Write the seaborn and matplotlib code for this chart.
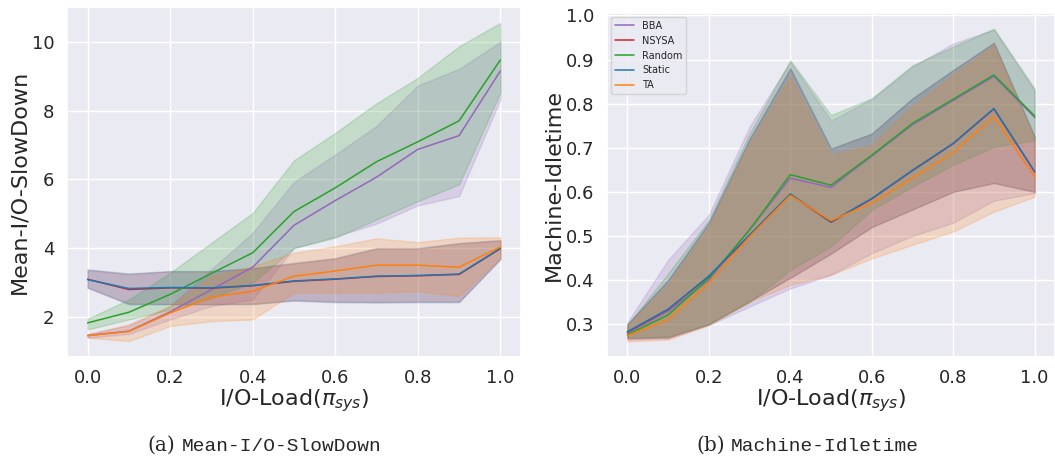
import numpy as np
import pandas as pd
import matplotlib
matplotlib.use("Agg")
import matplotlib.pyplot as plt
import seaborn as sns

# I/O load levels
loads = [0.0, 0.1, 0.2, 0.3, 0.4, 0.5, 0.6, 0.7, 0.8, 0.9, 1.0]
policies = ["BBA", "NSYSA", "Random", "Static", "TA"]
colors = ["#9467bd", "#d62728", "#2ca02c", "#1f77b4", "#ff7f0e"]

# Mean I/O slowdown: mean, lower and upper bound per policy
slow_mean = {
    "BBA":    [1.45, 1.58, 2.14, 2.79, 3.44, 4.66, 5.38, 6.06, 6.87, 7.27, 9.15],
    "NSYSA":  [3.09, 2.79, 2.84, 2.83, 2.90, 3.03, 3.09, 3.17, 3.19, 3.23, 3.98],
    "Random": [1.82, 2.13, 2.65, 3.26, 3.86, 5.06, 5.75, 6.51, 7.09, 7.70, 9.47],
    "Static": [3.08, 2.82, 2.85, 2.84, 2.91, 3.04, 3.10, 3.18, 3.20, 3.24, 3.99],
    "TA":     [1.45, 1.57, 2.11, 2.57, 2.74, 3.18, 3.33, 3.50, 3.50, 3.44, 4.03],
}
slow_low = {
    "BBA":    [1.39, 1.50, 1.92, 2.31, 2.50, 4.00, 4.33, 4.71, 5.24, 5.51, 8.32],
    "NSYSA":  [2.85, 2.38, 2.37, 2.37, 2.38, 2.48, 2.44, 2.43, 2.44, 2.44, 3.68],
    "Random": [1.63, 1.92, 2.21, 2.55, 2.99, 4.00, 4.30, 4.83, 5.36, 5.85, 8.52],
    "Static": [2.84, 2.36, 2.36, 2.36, 2.36, 2.47, 2.42, 2.41, 2.42, 2.42, 3.67],
    "TA":     [1.39, 1.29, 1.73, 1.87, 1.92, 2.70, 2.70, 2.70, 2.74, 2.60, 3.71],
}
slow_high = {
    "BBA":    [1.50, 1.75, 2.31, 3.38, 4.44, 5.92, 6.72, 7.55, 8.73, 9.21, 10.00],
    "NSYSA":  [3.36, 3.24, 3.32, 3.32, 3.40, 3.55, 3.69, 3.98, 3.98, 4.13, 4.22],
    "Random": [1.94, 2.50, 3.28, 4.15, 5.02, 6.55, 7.35, 8.21, 8.95, 9.87, 10.55],
    "Static": [3.38, 3.26, 3.33, 3.33, 3.42, 3.57, 3.71, 4.00, 4.00, 4.15, 4.23],
    "TA":     [1.48, 1.78, 2.31, 3.18, 3.47, 3.86, 4.05, 4.28, 4.17, 4.30, 4.31],
}

# Machine idle time: mean, lower and upper bound per policy
idle_mean = {
    "BBA":    [0.280, 0.329, 0.400, 0.514, 0.631, 0.610, 0.681, 0.752, 0.807, 0.862, 0.769],
    "NSYSA":  [0.282, 0.333, 0.408, 0.501, 0.594, 0.531, 0.584, 0.648, 0.709, 0.788, 0.645],
    "Random": [0.276, 0.321, 0.404, 0.514, 0.639, 0.615, 0.683, 0.755, 0.810, 0.865, 0.772],
    "Static": [0.283, 0.334, 0.409, 0.502, 0.595, 0.532, 0.585, 0.649, 0.710, 0.789, 0.646],
    "TA":     [0.274, 0.310, 0.393, 0.498, 0.592, 0.535, 0.574, 0.631, 0.689, 0.770, 0.634],
}
idle_low = {
    "BBA":    [0.265, 0.268, 0.298, 0.340, 0.381, 0.412, 0.461, 0.500, 0.530, 0.580, 0.597],
    "NSYSA":  [0.268, 0.270, 0.300, 0.352, 0.405, 0.460, 0.520, 0.560, 0.600, 0.620, 0.600],
    "Random": [0.270, 0.272, 0.300, 0.350, 0.423, 0.476, 0.559, 0.612, 0.661, 0.702, 0.717],
    "Static": [0.268, 0.270, 0.300, 0.352, 0.405, 0.460, 0.520, 0.560, 0.600, 0.620, 0.600],
    "TA":     [0.261, 0.265, 0.298, 0.351, 0.389, 0.412, 0.449, 0.480, 0.510, 0.555, 0.589],
}
idle_high = {
    "BBA":    [0.304, 0.446, 0.548, 0.748, 0.895, 0.762, 0.810, 0.884, 0.936, 0.968, 0.830],
    "NSYSA":  [0.300, 0.400, 0.530, 0.720, 0.880, 0.698, 0.732, 0.812, 0.876, 0.938, 0.725],
    "Random": [0.298, 0.415, 0.536, 0.732, 0.898, 0.774, 0.812, 0.887, 0.929, 0.970, 0.834],
    "Static": [0.300, 0.400, 0.530, 0.720, 0.880, 0.698, 0.732, 0.812, 0.876, 0.938, 0.725],
    "TA":     [0.295, 0.390, 0.520, 0.710, 0.861, 0.683, 0.706, 0.793, 0.865, 0.932, 0.718],
}


def long_form(mean, low, high):
    """Three observations per (policy, load): low, mean, high.
    The median gives the line and the full percentile range gives the band."""
    rows = []
    for p in policies:
        for i, x in enumerate(loads):
            for v in (low[p][i], mean[p][i], high[p][i]):
                rows.append({"policy": p, "load": x, "value": v})
    return pd.DataFrame(rows)


sns.set_theme(style="darkgrid")
plt.rcParams["font.family"] = ["DejaVu Sans"]

fig = plt.figure(figsize=(10.55, 4.61), dpi=100)
ax1 = fig.add_axes([0.0635, 0.2256, 0.4303, 0.7592])
ax2 = fig.add_axes([0.5754, 0.2256, 0.4246, 0.7462])

palette = dict(zip(policies, colors))

for ax, (mean, low, high), ylabel, show_legend in [
    (ax1, (slow_mean, slow_low, slow_high), "Mean-I/O-SlowDown", False),
    (ax2, (idle_mean, idle_low, idle_high), "Machine-Idletime", True),
]:
    df = long_form(mean, low, high)
    sns.lineplot(data=df, x="load", y="value", hue="policy",
                 hue_order=policies, palette=palette,
                 estimator="median", errorbar=("pi", 100),
                 linewidth=1.1, legend=show_legend, ax=ax)
    ax.set_xlabel(r"I/O-Load($\pi_{sys}$)", fontsize=16, labelpad=0)
    ax.set_ylabel(ylabel, fontsize=16, labelpad=1.5)
    ax.tick_params(axis="both", labelsize=13, pad=3)

sns.move_legend(ax2, "upper left", title=None, fontsize=7,
                borderaxespad=0.4)

# Subfigure captions
cap_y = 10 / 461
fig.text(175 / 1055, cap_y, "(a)", ha="right", va="baseline",
         family="DejaVu Serif", fontsize=14.5)
fig.text(182 / 1055, cap_y, "Mean-I/O-SlowDown", ha="left", va="baseline",
         family="Liberation Mono", fontsize=14)
fig.text(725 / 1055, cap_y, "(b)", ha="right", va="baseline",
         family="DejaVu Serif", fontsize=14.5)
fig.text(731 / 1055, cap_y, "Machine-Idletime", ha="left", va="baseline",
         family="Liberation Mono", fontsize=14)

fig.savefig("out.png", dpi=100)
